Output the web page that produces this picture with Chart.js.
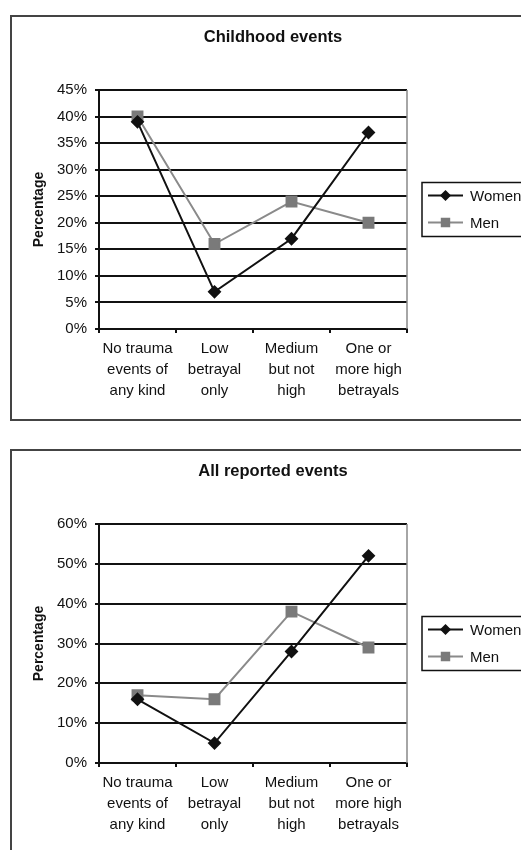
<!DOCTYPE html>
<html lang="en">
<head>
<meta charset="UTF-8">
<title>Betrayal trauma by gender</title>
<script src="https://cdn.jsdelivr.net/npm/chart.js"></script>
<style>
  html, body { margin: 0; padding: 0; background: #fff; overflow: hidden; }
  .frame { position: absolute; left: 10px; width: 522px; height: 402px; border: 2px solid #444; }
  .frame canvas { display: block; }
  #frame1 { top: 15px; }
  #frame2 { top: 449px; }
</style>
</head>
<body>
<div class="frame" id="frame1"><canvas id="childChart" width="522" height="402"></canvas></div>
<div class="frame" id="frame2"><canvas id="allChart" width="522" height="402"></canvas></div>

<script>
// categories (x axis, three lines each)
const categories = [
  ['No trauma', 'events of', 'any kind'],
  ['Low', 'betrayal', 'only'],
  ['Medium', 'but not', 'high'],
  ['One or', 'more high', 'betrayals']
];

// Childhood events (%)
const childWomen = [39, 7, 17, 37];
const childMen = [40, 16, 24, 20];
const childTicks = [0, 5, 10, 15, 20, 25, 30, 35, 40, 45];

// All reported events (%)
const allWomen = [16, 5, 28, 52];
const allMen = [17, 16, 38, 29];
const allTicks = [0, 10, 20, 30, 40, 50, 60];

Chart.defaults.font.family = 'Arial, "Liberation Sans", sans-serif';
Chart.defaults.color = '#111';

// legend with a frame and line+marker samples, to the right of the plot
const boxLegend = {
  id: 'boxLegend',
  afterDraw(chart) {
    const { ctx, chartArea } = chart;
    const left = chartArea.right + 15;
    const mid = (chartArea.top + chartArea.bottom) / 2;
    ctx.save();
    ctx.lineWidth = 1.5;
    ctx.strokeStyle = '#111';
    ctx.strokeRect(left, mid - 27, chart.width - left - 6, 54);
    chart.data.datasets.forEach((ds, i) => {
      const y = mid - 14 + i * 27;
      ctx.strokeStyle = ds.borderColor;
      ctx.lineWidth = ds.borderWidth;
      ctx.beginPath();
      ctx.moveTo(left + 6, y);
      ctx.lineTo(left + 41, y);
      ctx.stroke();
      ctx.fillStyle = ds.pointBackgroundColor;
      ctx.strokeStyle = ds.pointBorderColor;
      Chart.helpers.drawPoint(ctx, { pointStyle: ds.pointStyle, radius: ds.pointRadius * 0.75, borderWidth: 1 }, left + 23.5, y);
      ctx.fillStyle = '#111';
      ctx.font = '15px Arial, "Liberation Sans", sans-serif';
      ctx.textBaseline = 'middle';
      ctx.fillText(ds.label, left + 48, y + 1);
    });
    ctx.restore();
  }
};

// gray right edge of the plot area
const plotEdge = {
  id: 'plotEdge',
  beforeDatasetsDraw(chart) {
    const { ctx, chartArea } = chart;
    ctx.save();
    ctx.strokeStyle = '#888';
    ctx.lineWidth = 1.5;
    ctx.beginPath();
    ctx.moveTo(chartArea.right, chartArea.top);
    ctx.lineTo(chartArea.right, chartArea.bottom);
    ctx.stroke();
    ctx.restore();
  }
};

function makeChart(id, title, women, men, ticks) {
  return new Chart(document.getElementById(id), {
    type: 'line',
    data: {
      labels: categories,
      datasets: [
        {
          label: 'Women',
          data: women,
          borderColor: '#111',
          borderWidth: 2,
          pointStyle: 'rectRot',
          pointRadius: 5.5,
          pointBackgroundColor: '#111',
          pointBorderColor: '#111',
          tension: 0
        },
        {
          label: 'Men',
          data: men,
          borderColor: '#8a8a8a',
          borderWidth: 2,
          pointStyle: 'rect',
          pointRadius: 7,
          pointBackgroundColor: '#7a7a7a',
          pointBorderColor: '#7a7a7a',
          tension: 0
        }
      ]
    },
    options: {
      responsive: false,
      animation: false,
      layout: { padding: 0 },
      plugins: {
        legend: { display: false },
        tooltip: { enabled: false },
        title: {
          display: true,
          text: title,
          color: '#111',
          font: { size: 16.5, weight: 'bold' },
          padding: { top: 11, bottom: 42.2 }
        }
      },
      scales: {
        x: {
          offset: true,
          ticks: { font: { size: 15, lineHeight: 1.4 }, color: '#111', padding: 5.5, maxRotation: 0, autoSkip: false },
          grid: { offset: true, drawOnChartArea: false, tickLength: 4, color: '#111', lineWidth: 2 },
          border: { color: '#111', width: 2 },
          afterFit(s) { s.height = 90; }
        },
        y: {
          min: ticks[0],
          max: ticks[ticks.length - 1],
          ticks: { stepSize: ticks[1] - ticks[0], callback: v => v + '%', font: { size: 15 }, color: '#111', padding: 8 },
          grid: { color: '#111', lineWidth: 2, tickLength: 4 },
          border: { color: '#111', width: 2 },
          title: {
            display: true,
            text: 'Percentage',
            color: '#111',
            font: { size: 14, weight: 'bold' },
            padding: { top: 19, bottom: 0 }
          },
          afterFit(s) { s.width = 87; }
        },
        // empty right-hand axis that only reserves room for the legend
        side: {
          position: 'right',
          min: ticks[0],
          max: ticks[ticks.length - 1],
          ticks: { display: false },
          grid: { display: false },
          border: { display: false },
          afterFit(s) { s.width = 127; }
        }
      }
    },
    plugins: [plotEdge, boxLegend]
  });
}

makeChart('childChart', 'Childhood events', childWomen, childMen, childTicks);
makeChart('allChart', 'All reported events', allWomen, allMen, allTicks);
</script>
</body>
</html>
